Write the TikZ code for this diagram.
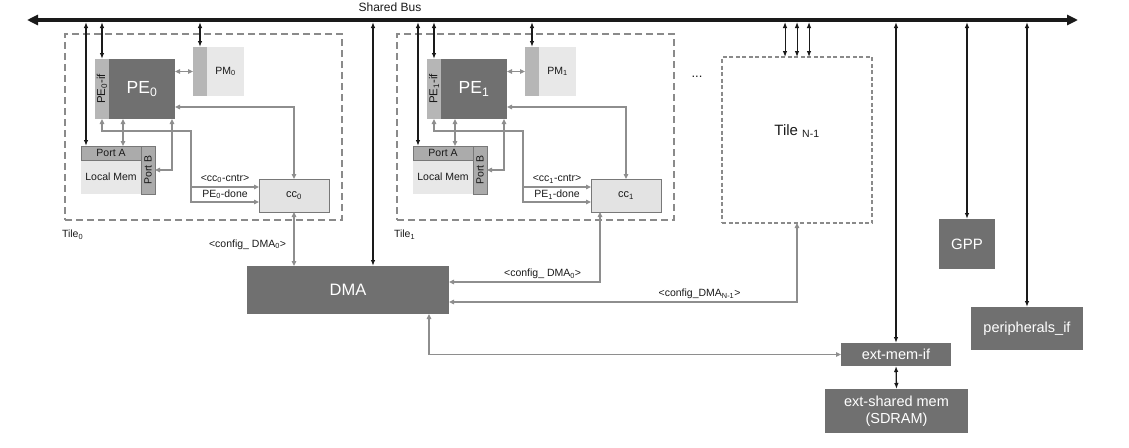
\documentclass[tikz,border=0pt]{standalone}
\usepackage{fontspec}
\setmainfont{Liberation Sans}
\usetikzlibrary{arrows.meta,calc,positioning}
\definecolor{chipink}{HTML}{1A1A1A}
\definecolor{chipdark}{HTML}{707070}
\definecolor{chipmid}{HTML}{B6B6B6}
\definecolor{chiplight}{HTML}{E8E8E8}
\definecolor{chipport}{HTML}{ABABAB}
\definecolor{chipcc}{HTML}{E3E3E3}
\definecolor{chipedge}{HTML}{787878}
\definecolor{chipline}{HTML}{8E8E8E}
\definecolor{chiptile}{HTML}{8A8A8A}
\newcommand\fsz[1]{\fontsize{#1}{#1}\selectfont}

\begin{document}
\begin{tikzpicture}[x=1pt, y=-1pt, inner sep=0pt, outer sep=0pt,
    dims/.style 2 args={minimum width=#1, minimum height=#2},
    blk/.style={anchor=north west, fill=chipdark, text=white, font=\fsz{15}},
    ifbox/.style={anchor=north west, fill=chipmid, text=chipink},
    litebox/.style={anchor=north west, fill=chiplight, text=chipink},
    portbox/.style={anchor=north west, fill=chipport, draw=chipedge, line width=0.6pt,
                    text=chipink, font=\fsz{10.5}},
    ccbox/.style={anchor=north west, fill=chipcc, draw=chipedge, line width=0.8pt,
                  text=chipink, font=\fsz{11}},
    tilebox/.style={anchor=north west, draw=chiptile, line width=1.5pt,
                    dash pattern=on 7pt off 4pt},
    link/.style={chipline, line width=1.1pt, >={Triangle[length=5pt,width=4.5pt]}},
    buslink/.style={chipink, line width=1.3pt, <->, >={Latex[length=6pt,width=4.5pt]}},
    lbl/.style={text=chipink, font=\fsz{10.5}}]

  \useasboundingbox (0,0) rectangle (1129,447);

  %% ---- shared bus ----
  \coordinate (busL) at (27,20);
  \coordinate (busR) at (1078,20);
  \coordinate (busB) at (0,22);
  \draw[chipink, line width=4pt,
        {Triangle[length=11pt,width=10pt]}-{Triangle[length=11pt,width=10pt]}] (busL) -- (busR);
  \node[text=chipink, font=\fsz{12}] (buslbl) at (390,7) {Shared Bus};

  %% ---- DMA and the blocks on the right ----
  \node[blk, dims={202}{48}, font=\fsz{16.5}] (dma) at (247,266) {DMA};
  \node[blk, dims={56}{50}] (gpp) at (939,219) {GPP};
  \node[blk, dims={110}{23}, font=\fsz{14.5}] (extmem) at (841,343) {ext-mem-if};
  \node[blk, dims={143}{44}, align=center, font=\fsz{14.5}] (extshared) at (825,389)
    {ext-shared mem\\[3pt](SDRAM)};
  \node[blk, dims={112}{43}, font=\fsz{14.5}] (periph) at (971,307) {peripherals\_if};

  %% ---- tile 0 and tile 1 ----
  \foreach \t/\dx in {0/0, 1/332} {
    \begin{scope}[shift={(\dx,0)}]
      \node[tilebox, dims={277}{186}] (tile\t) at (65,34) {};
      \node[lbl, anchor=west] (tilelbl\t) at (62,235) {Tile\textsubscript{\t}};

      %% PE with its bus interface, and its program memory
      \node[ifbox, dims={14}{60}, font=\fsz{11.5}] (peif\t) at (95,59)
        {\rotatebox{90}{PE\textsubscript{\t}-if}};
      \node[blk, dims={66}{60}, font=\fsz{17.5}] (pe\t) at (109,59) {PE\textsubscript{\t}};
      \node[ifbox, dims={14}{49}] (pmbar\t) at (193,47) {};
      \node[litebox, dims={37}{49}, font=\fsz{10.5}] (pm\t) at (207,47) {PM\textsubscript{\t}};

      %% local memory with two ports
      \node[litebox, dims={60}{34}, font=\fsz{10.5}] (lmem\t) at (81,160) {Local Mem};
      \node[portbox, dims={60}{14}] (porta\t) at (81,146) {Port A};
      \node[portbox, dims={14}{48}] (portb\t) at (141,146) {\rotatebox{90}{Port B}};

      %% controller
      \node[ccbox, dims={70}{33}] (cc\t) at (259,179) {cc\textsubscript{\t}};

      %% links to the bus
      \coordinate (patap\t) at ($(porta\t.north west)+(5,0)$);
      \draw[buslink] (patap\t |- busB) -- (patap\t);
      \draw[buslink] (peif\t.north |- busB) -- (peif\t.north);
      \draw[buslink] (pmbar\t.north |- busB) -- (pmbar\t.north);

      %% links inside the tile
      \draw[link, <->] (pe\t.east |- pmbar\t.west) -- (pmbar\t.west);
      \draw[link, <->] (cc\t.north) |- ($(pe\t.south east)+(0,-12)$);
      \draw[link, <->] ($(pe\t.south west)+(14,0)$) -- ($(porta\t.north west)+(42,0)$);
      \draw[link, <->] ($(pe\t.south east)+(-3,0)$) |- (portb\t.east);
      \coordinate (bend\t) at (191,131);
      \coordinate (ccup\t) at ($(cc\t.north west)+(0,8)$);
      \coordinate (ccdn\t) at ($(cc\t.south west)+(0,-10)$);
      \draw[link, <->] (peif\t.south) |- (bend\t) |- (ccdn\t)
        node[lbl, pos=0.75, above=3pt] (done\t) {PE\textsubscript{\t}-done};
      \draw[link, ->] (bend\t |- ccup\t) -- (ccup\t)
        node[lbl, midway, above=4pt] (cntr\t) {<cc\textsubscript{\t}-cntr>};
    \end{scope}
  }

  %% ---- tile N-1 ----
  \node[anchor=north west, draw=chiptile, line width=1.1pt, dash pattern=on 4pt off 2.5pt,
        dims={150}{166}, text depth=20pt, text=chipink, font=\fsz{15}] (tileN) at (722,57)
    {Tile \textsubscript{N-1}};
  \node[text=chipink, font=\fsz{13}] (dots) at (697,77) {...};
  \foreach \o in {-12,0,12} {
    \coordinate (tntap) at ($(tileN.north)+(\o,0)$);
    \draw[buslink, line width=1pt] (tntap |- busB) -- (tntap);
  }

  %% ---- configuration links to the DMA ----
  \draw[link, <->] (cc0.south) -- (cc0.south |- dma.north)
    node[lbl, pos=0.6, left=8pt] (cfg0) {<config\_ DMA\textsubscript{0}>};
  \draw[link, <->] ($(cc1.south west)+(9,0)$) |- ($(dma.east)+(0,-8)$)
    node[lbl, pos=0.69, above=3pt] (cfg1) {<config\_ DMA\textsubscript{0}>};
  \draw[link, <->] (tileN.south) |- ($(dma.east)+(0,12)$)
    node[lbl, pos=0.64, above=3pt] (cfgN) {<config\_DMA\textsubscript{N-1}>};
  \draw[link, <->] ($(dma.south east)+(-20,0)$) |- (extmem.west);

  %% ---- DMA and right blocks to the bus ----
  \coordinate (dmatap) at ($(dma.north west)+(126,0)$);
  \draw[buslink] (dmatap |- busB) -- (dmatap);
  \draw[buslink] (extmem.north |- busB) -- (extmem.north);
  \draw[buslink] (gpp.north |- busB) -- (gpp.north);
  \draw[buslink] (periph.north |- busB) -- (periph.north);
  \draw[buslink] (extmem.south) -- (extshared.north);

\end{tikzpicture}
\end{document}
